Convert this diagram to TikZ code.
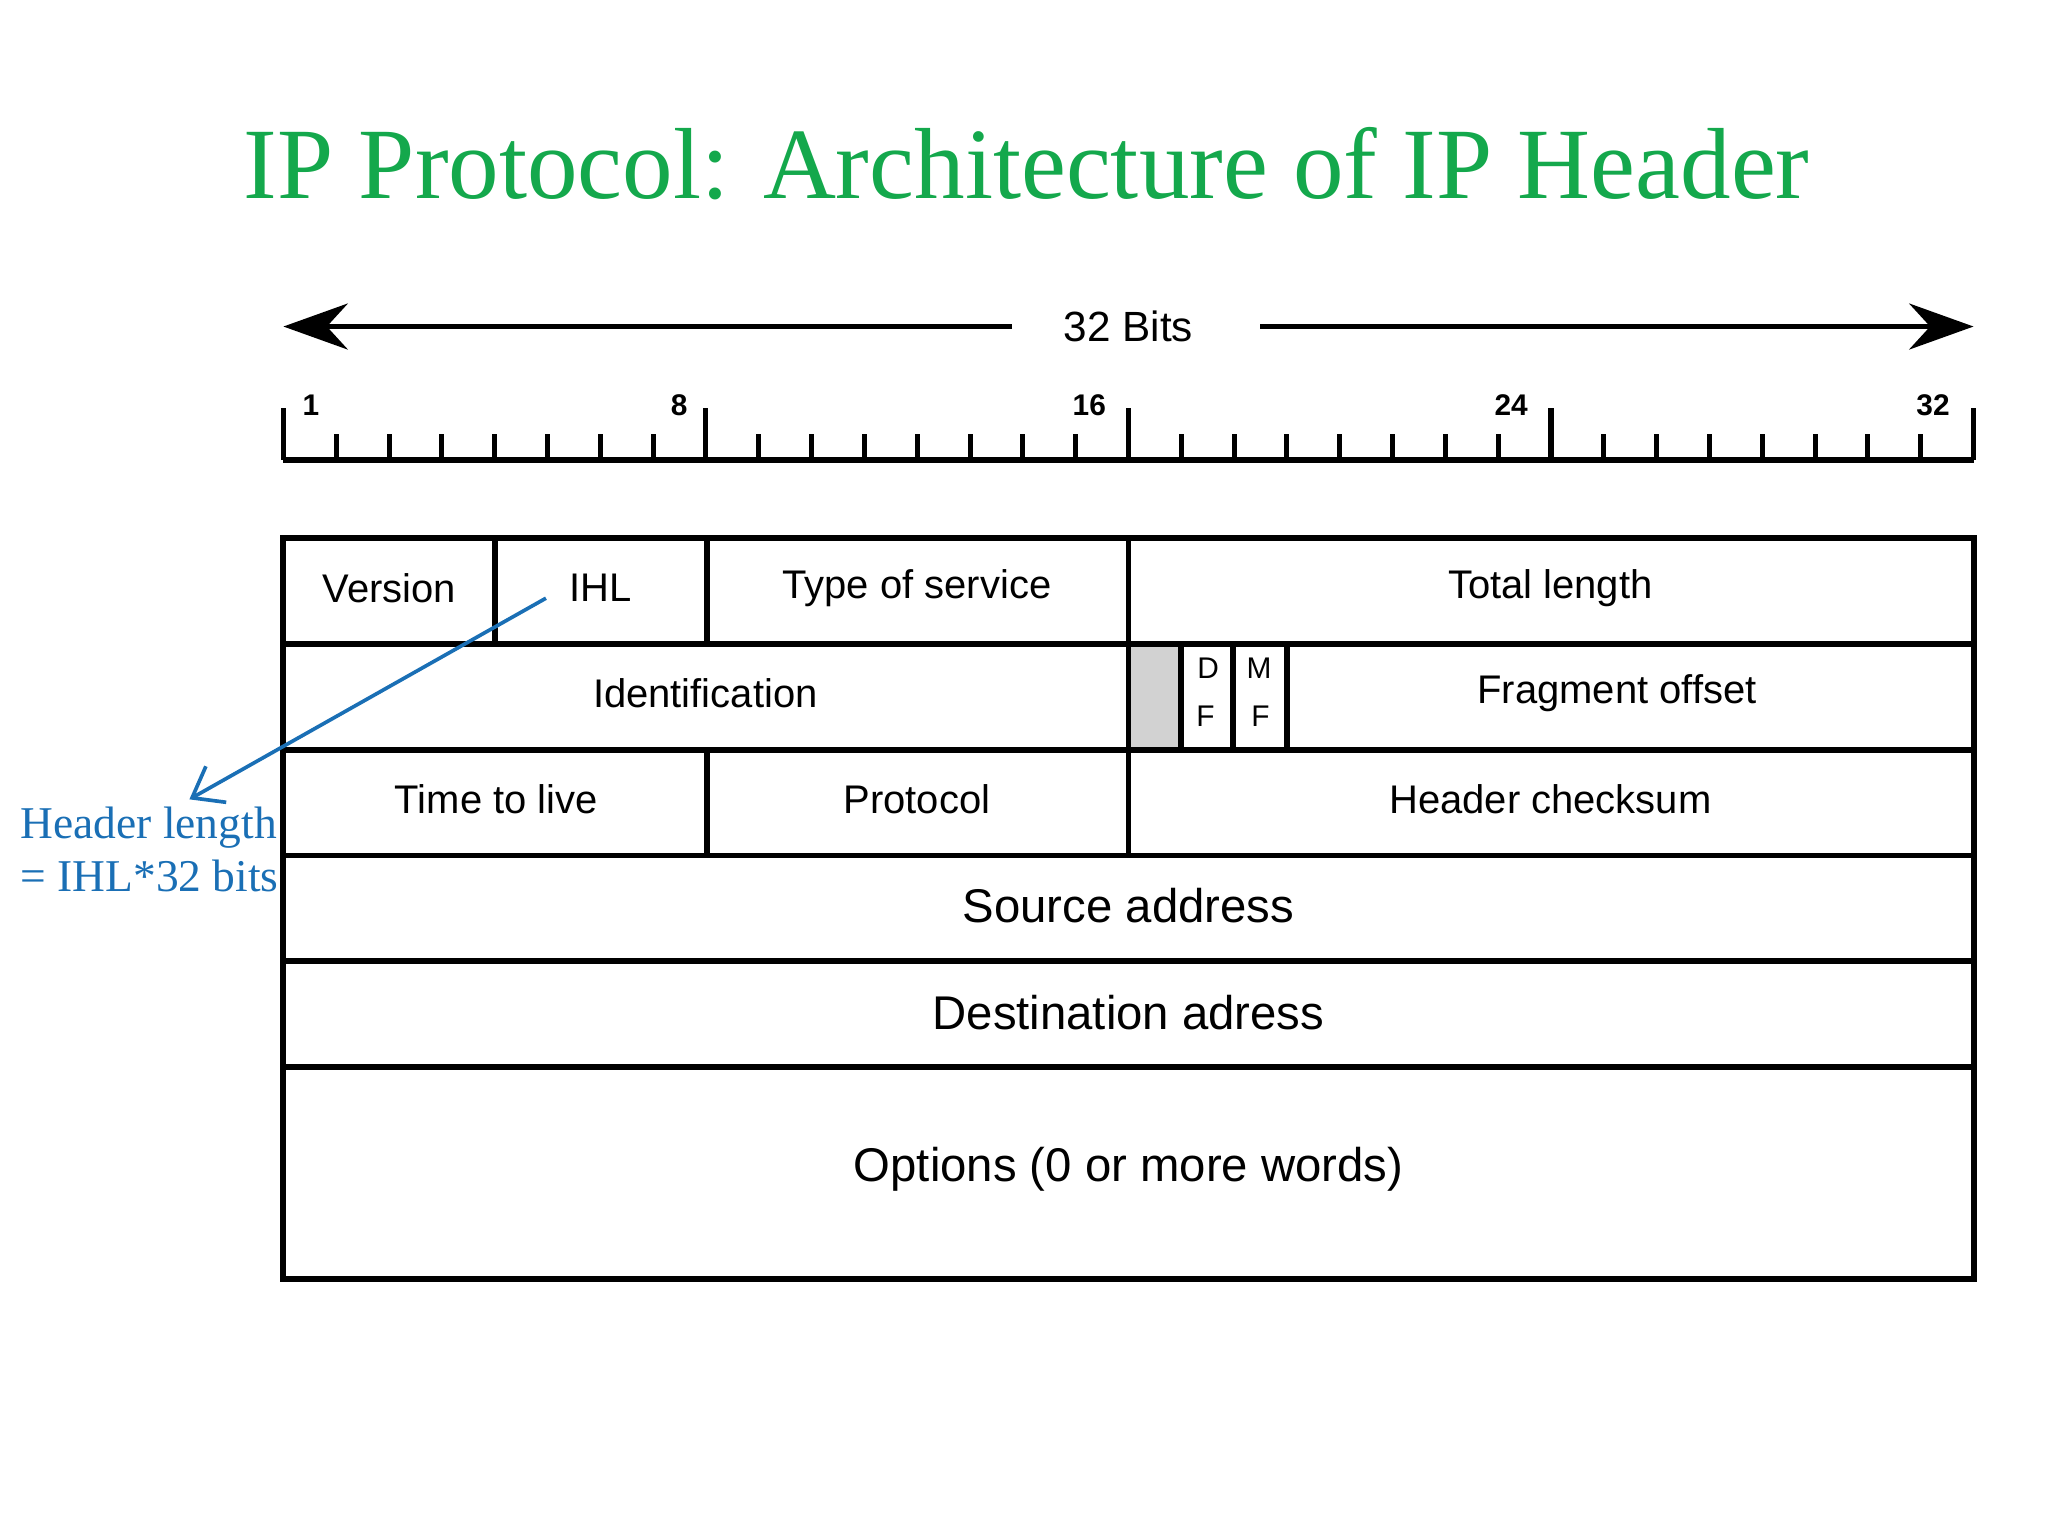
\documentclass[tikz,border=0pt]{standalone}
\usepackage{fontspec}
\setmainfont{Liberation Serif}
\setsansfont{Liberation Sans}
\usetikzlibrary{arrows.meta}
\definecolor{ttl}{HTML}{14A84C}
\definecolor{ann}{HTML}{1A6FB5}
\begin{document}
\begin{tikzpicture}[x=0.01cm,y=-0.01cm,
  cell/.style={font=\sffamily\fontsize{8.7}{10}\selectfont},
  bigcell/.style={font=\sffamily\fontsize{10.3}{12}\selectfont},
  tiny/.style={font=\sffamily\fontsize{6.5}{8}\selectfont},
  lbl/.style={font=\sffamily\bfseries\fontsize{6.5}{7}\selectfont},
  frame/.style={line width=1.3pt}]
\useasboundingbox (0,0) rectangle (1568,1176);
\node[text=ttl,font=\fontsize{22}{26}\selectfont] (title) at (786,125) {IP Protocol: Architecture of IP Header};
% 32 bits arrow
\node[font=\sffamily\fontsize{9.2}{11}\selectfont] (bits) at (864,250) {32 Bits};
\coordinate (al) at (217,250); \coordinate (ar) at (1511,250);
\draw[line width=1.2pt,-{Stealth[length=14pt,width=10pt]}] (775,250) -- (al);
\draw[line width=1.2pt,-{Stealth[length=14pt,width=10pt]}] (965,250) -- (ar);
% ruler
\draw[line width=1.2pt] (217,352) -- (1511,352);
\foreach \i in {0,...,32}{
  \pgfmathsetmacro\xx{217+40.4375*\i}
  \draw[line width=1.1pt] (\xx,352) -- (\xx,332);
}
\foreach \xx in {217,540.5,864,1187.5,1511}{\draw[line width=1.1pt] (\xx,352) -- (\xx,312);}
\node[lbl] (r1) at (238,310) {1};
\node[lbl] (r8) at (520,310) {8};
\node[lbl] (r16) at (834,310) {16};
\node[lbl] (r24) at (1157,310) {24};
\node[lbl] (r32) at (1480,310) {32};
% table
\fill[gray!35] (864,493) rectangle (904,574);
\draw[frame] (217,412) rectangle (1511,979);
\foreach \yy in {493,574,655,736,817}{\draw[frame] (217,\yy) -- (1511,\yy);}
\draw[frame] (379,412) -- (379,493);
\draw[frame] (541,412) -- (541,493);
\draw[frame] (864,412) -- (864,655);
\draw[frame] (904,493) -- (904,574);
\draw[frame] (944,493) -- (944,574);
\draw[frame] (985,493) -- (985,574);
\draw[frame] (541,574) -- (541,655);
\node[cell] (ver) at (298,450) {Version};
\node[cell] (ihl) at (460,450) {IHL};
\node[cell] (tos) at (702,450) {Type of service};
\node[cell] (tl) at (1187,450) {Total length};
\node[cell] (id) at (540,531) {Identification};
\node[tiny] (d) at (925,512) {D};
\node[tiny] (f1) at (923,548) {F};
\node[tiny] (m) at (964,512) {M};
\node[tiny] (f2) at (965,548) {F};
\node[cell] (fo) at (1238,531) {Fragment offset};
\node[cell] (ttlv) at (380,612) {Time to live};
\node[cell] (proto) at (702,612) {Protocol};
\node[cell] (hc) at (1187,612) {Header checksum};
\node[bigcell] (src) at (864,693) {Source address};
\node[bigcell] (dst) at (864,775) {Destination adress};
\node[bigcell] (opt) at (864,895) {Options (0 or more words)};
% annotation
\node[text=ann,font=\fontsize{9.9}{11.6}\selectfont,align=left,anchor=north west,inner sep=0pt] (hl) at (15,617) {Header length\\= IHL*32 bits};
\coordinate (ihlp) at (418,458);
\coordinate (tip) at (145,612);
\draw[ann,line width=0.8pt,-{Straight Barb[length=6pt,width=9pt]}] (ihlp) -- (tip);
\end{tikzpicture}
\end{document}
